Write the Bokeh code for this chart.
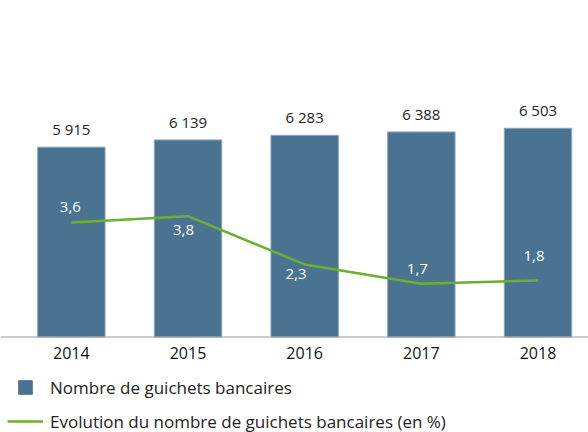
from bokeh.plotting import figure
from bokeh.models import Range1d, ColumnDataSource, Legend, LegendItem, Span
from bokeh.embed import file_html
from bokeh.resources import INLINE
from bokeh.core.properties import value

# ---- data ----
years = ["2014", "2015", "2016", "2017", "2018"]
guichets = [5915, 6139, 6283, 6388, 6503]
evolution = [3.6, 3.8, 2.3, 1.7, 1.8]

# ---- style ----
BAR = "#4a7391"
BAR_EDGE = "#8ea6b8"
GREEN = "#6aaf2e"
FONT = "Open Sans"
TXT = "#222222"
# pixel nudges of the % labels relative to their points (layout only)
pct_dx = [-1, -4.5, -8.7, -4, -4]
pct_dy = [-16, 14, 9.5, -15, -25]

xs = list(range(len(years)))
src = ColumnDataSource(dict(
    x=xs,
    year=years,
    n=guichets,
    n_lbl=[f"{v:,}".replace(",", " ") for v in guichets],
    pct=evolution,
    pct_lbl=[f"{v:.1f}".replace(".", ",") for v in evolution],
    dx=pct_dx,
    dy=pct_dy,
))

p = figure(width=588, height=432, output_backend="svg", toolbar_location=None,
           x_range=Range1d(-0.6073, 4.433), y_range=Range1d(-2975, 10483),
           x_axis_location=None, y_axis_location=None,
           min_border_left=0, min_border_right=0, min_border_top=0, min_border_bottom=0)
p.outline_line_color = None
p.grid.visible = False
p.extra_y_ranges = {"pct": Range1d(-2.919, 10.497)}

bars = p.vbar(x="x", top="n", width=0.578, source=src,
              fill_color=BAR, line_color=BAR_EDGE, line_width=1)
p.text(x="x", y="n", text="n_lbl", source=src,
       text_align="center", text_baseline="alphabetic", y_offset=-18,
       text_font=value(FONT), text_font_size="15px", text_color=TXT)

# category axis (baseline + year labels)
p.add_layout(Span(location=0, dimension="width", line_color="#9a9a9a", line_width=1.2))
p.text(x="x", y=0, text="year", source=src,
       text_align="center", text_baseline="alphabetic", y_offset=16,
       text_font=value(FONT), text_font_size="16px", text_color="#111111")

line = p.line(x="x", y="pct", source=src, y_range_name="pct",
              line_color=GREEN, line_width=2.5)
p.text(x="x", y="pct", text="pct_lbl", source=src, y_range_name="pct",
       x_offset="dx", y_offset="dy",
       text_align="center", text_baseline="alphabetic",
       text_font=value(FONT), text_font_size="15px", text_color="white")

# legend swatch: square markers at the bar tops, hidden, used only for the legend
sq = p.scatter(x="x", y="n", source=src, marker="square",
               fill_color=BAR, line_color=BAR, visible=False)

legend = Legend(items=[
    LegendItem(label="Nombre de guichets bancaires", renderers=[sq]),
    LegendItem(label="Evolution du nombre de guichets bancaires (en %)", renderers=[line]),
], location=(7, -6), glyph_width=36, glyph_height=34, label_standoff=7,
    spacing=0, padding=0, margin=0, border_line_color=None, background_fill_alpha=0,
    inactive_fill_alpha=0,
    label_text_font=FONT, label_text_font_size="17px", label_text_color=TXT)
p.add_layout(legend)

open("out.html", "w").write(file_html(p, INLINE))
